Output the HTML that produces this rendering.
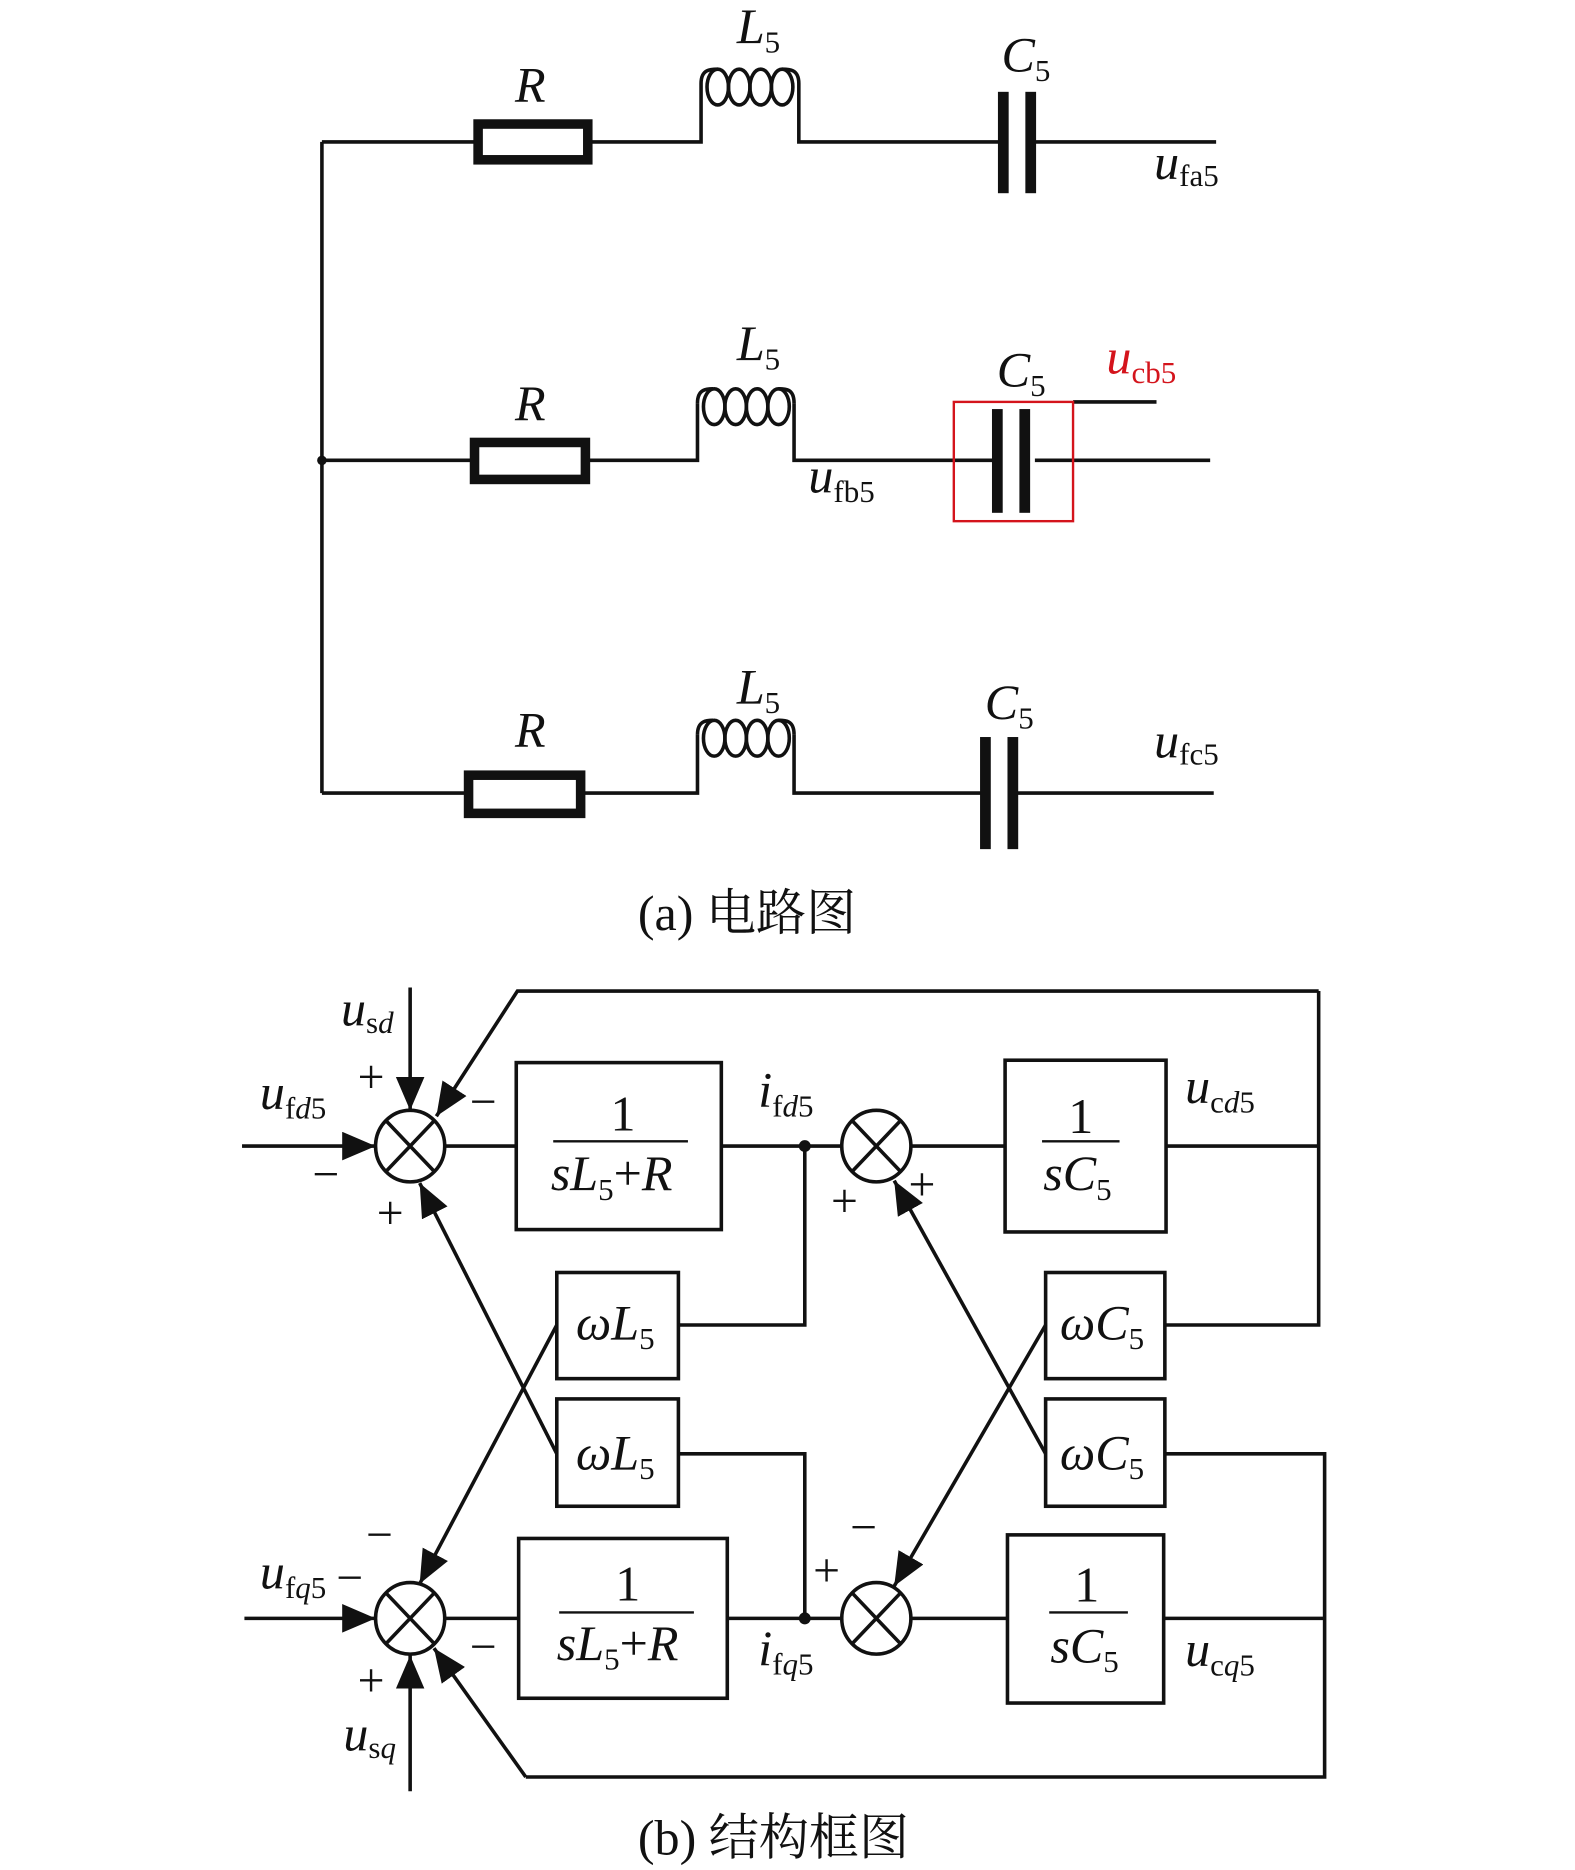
<!DOCTYPE html>
<html><head><meta charset="utf-8"><style>
html,body{margin:0;padding:0;background:#fff;}
svg{display:block;}
text{font-family:"Liberation Serif","Noto Serif CJK SC",serif;fill:#111;}
.i{font-style:italic;}
</style></head><body>
<svg width="1575" height="1870" viewBox="2 0 1321 1568" preserveAspectRatio="none" xmlns="http://www.w3.org/2000/svg">
<defs>
<marker id="a" markerUnits="userSpaceOnUse" markerWidth="30" markerHeight="30" refX="28" refY="12" orient="auto">
<path d="M0,0 L28,12 L0,24 Z" fill="#111"/>
</marker>
</defs>
<g stroke="#111" stroke-width="3" fill="none">
<path d="M272 119 V665"/>
<!-- row1 -->
<path d="M272 119 H400 M498 119 H590 V70 M672 70 V119 H840 M870 119 H1022"/>
<rect x="403" y="104" width="92" height="30" stroke-width="8"/>
<path d="M590 70 C590 58 598 58 604 58 M658 58 C664 58 672 58 672 70"/>
<ellipse cx="604" cy="73" rx="9" ry="15"/><ellipse cx="622" cy="73" rx="9" ry="15"/><ellipse cx="640" cy="73" rx="9" ry="15"/><ellipse cx="658" cy="73" rx="9" ry="15"/>
<!-- row2 -->
<path d="M272 386 H397 M496 386 H587 V338 M668 338 V386 H835 M870 386 H1017 M902 337 H972"/>
<rect x="400" y="371" width="93" height="31" stroke-width="8"/>
<path d="M587 338 C587 326 595 326 600 326 M655 326 C661 326 668 326 668 338"/>
<ellipse cx="601" cy="341" rx="9" ry="15"/><ellipse cx="619" cy="341" rx="9" ry="15"/><ellipse cx="637" cy="341" rx="9" ry="15"/><ellipse cx="655" cy="341" rx="9" ry="15"/>
<!-- row3 -->
<path d="M272 665 H392 M492 665 H587 V616 M668 616 V665 H825 M855 665 H1020"/>
<rect x="395" y="650" width="94" height="32" stroke-width="8"/>
<path d="M587 616 C587 604 595 604 600 604 M655 604 C661 604 668 604 668 616"/>
<ellipse cx="601" cy="619" rx="9" ry="15"/><ellipse cx="619" cy="619" rx="9" ry="15"/><ellipse cx="637" cy="619" rx="9" ry="15"/><ellipse cx="655" cy="619" rx="9" ry="15"/>
</g>
<g fill="#111">
<rect x="839" y="77" width="9" height="85"/><rect x="862" y="77" width="9" height="85"/>
<rect x="834" y="343" width="9" height="87"/><rect x="857" y="343" width="9" height="87"/>
<rect x="824" y="618" width="9" height="94"/><rect x="847" y="618" width="9" height="94"/>
<circle cx="272" cy="386" r="4"/>
</g>
<rect x="802" y="337" width="100" height="100" fill="none" stroke="#d4141c" stroke-width="2"/>
<g font-size="42">
<text x="434" y="85" class="i">R</text>
<text x="620" y="36" class="i">L<tspan font-size="26" font-style="normal" dy="8">5</tspan></text>
<text x="842" y="60" class="i">C<tspan font-size="26" font-style="normal" dy="8">5</tspan></text>
<text x="970" y="150" class="i">u<tspan font-size="26" font-style="normal" dy="6">fa5</tspan></text>
<text x="434" y="352" class="i">R</text>
<text x="620" y="302" class="i">L<tspan font-size="26" font-style="normal" dy="8">5</tspan></text>
<text x="838" y="324" class="i">C<tspan font-size="26" font-style="normal" dy="8">5</tspan></text>
<text x="930" y="313" class="i" style="fill:#d4141c">u<tspan font-size="26" font-style="normal" dy="8" style="fill:#d4141c">cb5</tspan></text>
<text x="680" y="413" class="i">u<tspan font-size="26" font-style="normal" dy="8">fb5</tspan></text>
<text x="434" y="626" class="i">R</text>
<text x="620" y="590" class="i">L<tspan font-size="26" font-style="normal" dy="8">5</tspan></text>
<text x="828" y="603" class="i">C<tspan font-size="26" font-style="normal" dy="8">5</tspan></text>
<text x="970" y="635" class="i">u<tspan font-size="26" font-style="normal" dy="6">fc5</tspan></text>
<text x="537" y="780">(a) 电路图</text>
<text x="537" y="1555">(b) 结构框图</text>
</g>
<g stroke="#111" stroke-width="3" fill="none">
<ellipse cx="346" cy="961" rx="29" ry="30"/>
<ellipse cx="737" cy="961" rx="29" ry="30"/>
<ellipse cx="346" cy="1357" rx="29" ry="30"/>
<ellipse cx="737" cy="1357" rx="29" ry="30"/>
<path d="M326 940 L366 982 M366 940 L326 982 M717 940 L757 982 M757 940 L717 982 M326 1336 L366 1378 M366 1336 L326 1378 M717 1336 L757 1378 M757 1336 L717 1378"/>
<rect x="435" y="891" width="172" height="140"/>
<rect x="845" y="889" width="135" height="144"/>
<rect x="437" y="1290" width="175" height="134"/>
<rect x="847" y="1287" width="131" height="141"/>
<rect x="469" y="1067" width="102" height="89"/>
<rect x="469" y="1173" width="102" height="90"/>
<rect x="879" y="1067" width="100" height="89"/>
<rect x="879" y="1173" width="100" height="90"/>
<path d="M205 961 H317" marker-end="url(#a)"/>
<path d="M346 828 V931" marker-end="url(#a)"/>
<path d="M1108 831 H436 L368 936" marker-end="url(#a)"/>
<path d="M375 961 H435 M607 961 H708 M677 961 V1111 H571 M766 961 H845 M980 961 H1108 V1111 H979 M1108 831 V961"/>
<path d="M469 1111 L354 1328" marker-end="url(#a)"/>
<path d="M469 1219 L354 992" marker-end="url(#a)"/>
<path d="M879 1111 L752 1330" marker-end="url(#a)"/>
<path d="M879 1219 L752 990" marker-end="url(#a)"/>
<path d="M571 1219 H677 V1357 M979 1219 H1113 V1490 H443"/>
<path d="M443 1490 L366 1382" marker-end="url(#a)"/>
<path d="M207 1357 H317" marker-end="url(#a)"/>
<path d="M346 1502 V1388" marker-end="url(#a)"/>
<path d="M375 1357 H437 M612 1357 H708 M766 1357 H847 M978 1357 H1113"/>
</g>
<g fill="#111"><circle cx="677" cy="961" r="5"/><circle cx="677" cy="1357" r="5"/></g>
<g stroke="#111" stroke-width="2">
<path d="M466 957 H579 M876 957 H941 M471 1352 H584 M882 1352 H948"/>
</g>
<g font-size="42">
<text x="514" y="948">1</text>
<text x="464" y="998" class="i">sL<tspan font-size="26" font-style="normal" dy="8">5</tspan><tspan dy="-8" font-style="normal">+</tspan>R</text>
<text x="898" y="950">1</text>
<text x="877" y="998" class="i">sC<tspan font-size="26" font-style="normal" dy="8">5</tspan></text>
<text x="518" y="1342">1</text>
<text x="469" y="1392" class="i">sL<tspan font-size="26" font-style="normal" dy="8">5</tspan><tspan dy="-8" font-style="normal">+</tspan>R</text>
<text x="903" y="1343">1</text>
<text x="883" y="1394" class="i">sC<tspan font-size="26" font-style="normal" dy="8">5</tspan></text>
<text x="485" y="1123" class="i">ωL<tspan font-size="26" font-style="normal" dy="8">5</tspan></text>
<text x="485" y="1232" class="i">ωL<tspan font-size="26" font-style="normal" dy="8">5</tspan></text>
<text x="891" y="1123" class="i">ωC<tspan font-size="26" font-style="normal" dy="8">5</tspan></text>
<text x="891" y="1232" class="i">ωC<tspan font-size="26" font-style="normal" dy="8">5</tspan></text>
<text x="288" y="860" class="i">u<tspan font-size="26" font-style="normal" dy="6">s<tspan class="i">d</tspan></tspan></text>
<text x="220" y="930" class="i">u<tspan font-size="26" font-style="normal" dy="8">f<tspan class="i">d</tspan>5</tspan></text>
<text x="638" y="928" class="i">i<tspan font-size="26" font-style="normal" dy="8">f<tspan class="i">d</tspan>5</tspan></text>
<text x="996" y="925" class="i">u<tspan font-size="26" font-style="normal" dy="8">c<tspan class="i">d</tspan>5</tspan></text>
<text x="220" y="1332" class="i">u<tspan font-size="26" font-style="normal" dy="8">f<tspan class="i">q</tspan>5</tspan></text>
<text x="290" y="1468" class="i">u<tspan font-size="26" font-style="normal" dy="6">s<tspan class="i">q</tspan></tspan></text>
<text x="638" y="1396" class="i">i<tspan font-size="26" font-style="normal" dy="8">f<tspan class="i">q</tspan>5</tspan></text>
<text x="996" y="1397" class="i">u<tspan font-size="26" font-style="normal" dy="8">c<tspan class="i">q</tspan>5</tspan></text>
</g>
<g font-size="40">
<text x="302" y="916">+</text>
<text x="396" y="937">−</text>
<text x="264" y="998">−</text>
<text x="318" y="1030">+</text>
<text x="699" y="1020">+</text>
<text x="764" y="1006">+</text>
<text x="284" y="1336">−</text>
<text x="309" y="1300">−</text>
<text x="302" y="1422">+</text>
<text x="396" y="1394">−</text>
<text x="684" y="1330">+</text>
<text x="715" y="1294">−</text>
</g>
</svg>
</body></html>
